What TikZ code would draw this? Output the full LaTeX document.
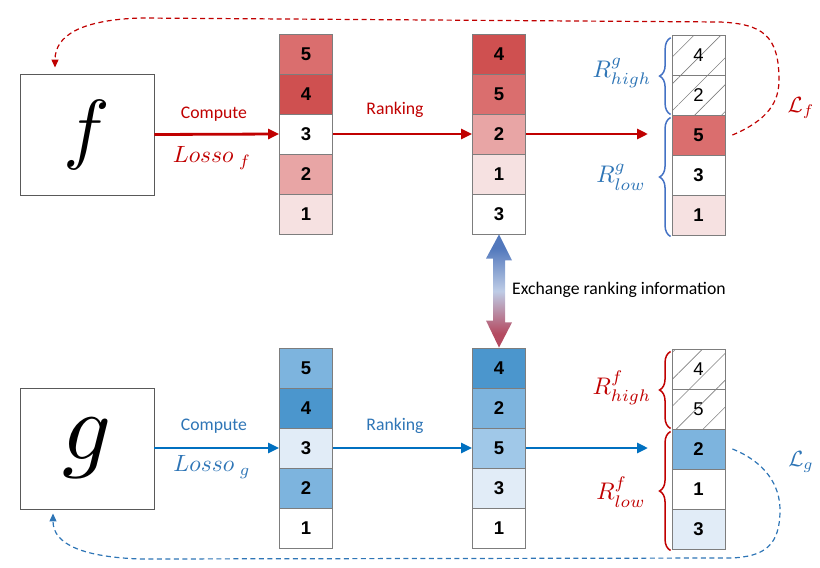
\documentclass[tikz,border=0pt]{standalone}
\usepackage{fontspec}
\setmainfont{Carlito}
\newfontfamily\numfont{Liberation Sans}
\usetikzlibrary{arrows.meta,decorations.pathreplacing,patterns.meta,calc}
\definecolor{rline}{RGB}{192,0,0}
\definecolor{bline}{RGB}{0,112,192}
\definecolor{btext}{RGB}{46,117,182}
\definecolor{bbrace}{RGB}{68,114,196}
\definecolor{rfour}{RGB}{207,80,80}
\definecolor{rfive}{RGB}{218,110,110}
\definecolor{rtwo}{RGB}{232,165,165}
\definecolor{rone}{RGB}{246,225,225}
\definecolor{bfour}{RGB}{75,150,205}
\definecolor{bmed}{RGB}{125,180,222}
\definecolor{blite}{RGB}{160,200,232}
\definecolor{bpale}{RGB}{225,236,247}
\definecolor{cellgray}{RGB}{125,125,125}
\definecolor{exblue}{RGB}{82,120,188}
\definecolor{exmid}{RGB}{190,204,230}
\definecolor{exred}{RGB}{180,74,96}
\pgfdeclareverticalshading{exshade}{100bp}{color(0bp)=(exred); color(31bp)=(exred); color(50bp)=(exmid); color(69bp)=(exblue); color(100bp)=(exblue)}
\begin{document}
\begin{tikzpicture}[x=1pt,y=-1pt,
  cell/.style={draw=cellgray, line width=0.9pt, minimum width=53pt, minimum height=40pt, inner sep=0pt,
    font=\numfont\fontsize{18.5}{18.5}\bfseries\selectfont},
  hatch/.style={draw=cellgray, line width=0.9pt, minimum width=53pt, minimum height=40pt, inner sep=0pt,
    font=\numfont\fontsize{18.5}{18.5}\selectfont,
    pattern={Lines[angle=45,distance=19pt,line width=0.6pt]}, pattern color=gray},
  fbox/.style={draw=black!65, line width=0.9pt, minimum width=134pt, minimum height=121pt, inner sep=0pt},
  mainarrow/.style={line width=2.8pt, -{Triangle[length=11pt,width=10pt]}},
  lab/.style={font=\fontsize{17.7}{20}\selectfont, inner sep=0pt},
  mlab/.style={inner sep=0pt},
  brc/.style={decorate, decoration={brace, amplitude=11pt}, line width=1.5pt},
  dashline/.style={line width=1.2pt, dash pattern=on 5pt off 3.5pt, -{Triangle[length=8pt,width=7pt]}}
]
\useasboundingbox (0,0) rectangle (820,568);

% model boxes
\node[fbox] (F) at (87,134.5) {\scalebox{7.8}{$f$}};
\node[fbox] (G) at (87,448.5) {\scalebox{9.6}{$g$}};

% top columns
\node[cell, fill=rfive] (a1) at (306,54) {5};
\node[cell, fill=rfour] (a2) at (306,94) {4};
\node[cell, fill=white] (a3) at (306,134) {3};
\node[cell, fill=rtwo]  (a4) at (306,174) {2};
\node[cell, fill=rone]  (a5) at (306,214) {1};

\node[cell, fill=rfour] (b1) at (499,54) {4};
\node[cell, fill=rfive] (b2) at (499,94) {5};
\node[cell, fill=rtwo]  (b3) at (499,134) {2};
\node[cell, fill=rone]  (b4) at (499,174) {1};
\node[cell, fill=white] (b5) at (499,214) {3};

\node[hatch] (c1) at (698.5,55) {4};
\node[hatch] (c2) at (698.5,95) {2};
\node[cell, fill=rfive] (c3) at (698.5,135) {5};
\node[cell, fill=white] (c4) at (698.5,175) {3};
\node[cell, fill=rone]  (c5) at (698.5,215) {1};

% bottom columns
\node[cell, fill=bmed]  (d1) at (306,368) {5};
\node[cell, fill=bfour] (d2) at (306,408) {4};
\node[cell, fill=bpale] (d3) at (306,448) {3};
\node[cell, fill=bmed]  (d4) at (306,488) {2};
\node[cell, fill=white] (d5) at (306,528) {1};

\node[cell, fill=bfour] (e1) at (499,368) {4};
\node[cell, fill=bmed]  (e2) at (499,408) {2};
\node[cell, fill=blite] (e3) at (499,448) {5};
\node[cell, fill=bpale] (e4) at (499,488) {3};
\node[cell, fill=white] (e5) at (499,528) {1};

\node[hatch] (h1) at (698.5,369) {4};
\node[hatch] (h2) at (698.5,409) {5};
\node[cell, fill=bmed]  (h3) at (698.5,449) {2};
\node[cell, fill=white] (h4) at (698.5,489) {1};
\node[cell, fill=bpale] (h5) at (698.5,529) {3};

% main arrows
\coordinate (tend) at (648,134);
\coordinate (bend) at (648,448);
\draw[mainarrow, rline] (F.east) -- (a3.west);
\draw[mainarrow, rline] (a3.east) -- (b3.west);
\draw[mainarrow, rline] (b3.east) -- (tend);
\draw[mainarrow, bline] (G.east |- d3.west) -- (d3.west);
\draw[mainarrow, bline] (d3.east) -- (e3.west);
\draw[mainarrow, bline] (e3.east) -- (bend);

% arrow labels
\node[lab, text=rline] (tc) at (214,114) {Compute};
\node[mlab, text=rline] (tl) at (212,158) {\scalebox{2.35}{$Losso\ _{f}$}};
\node[lab, text=rline] (tr) at (395,110) {Ranking};
\node[lab, text=btext] (bc) at (214,426) {Compute};
\node[mlab, text=btext] (bl) at (212,467) {\scalebox{2.35}{$Losso\ _{g}$}};
\node[lab, text=btext] (br) at (395,426) {Ranking};

% braces
\draw[brc, bbrace] ([shift={(-1,-1)}]c2.south west) -- ([shift={(-1,3)}]c1.north west);
\draw[brc, bbrace] ([shift={(-1,1)}]c5.south west) -- ([shift={(-1,3)}]c3.north west);
\draw[brc, rline] ([shift={(-1,-1)}]h2.south west) -- ([shift={(-1,3)}]h1.north west);
\draw[brc, rline] ([shift={(-1,1)}]h5.south west) -- ([shift={(-1,3)}]h3.north west);

\node[mlab, text=btext] (rgh) at (622,73) {\scalebox{2.4}{$R^{g}_{high}$}};
\node[mlab, text=btext] (rgl) at (621,177) {\scalebox{2.4}{$R^{g}_{low}$}};
\node[mlab, text=rline] (rfh) at (622,388) {\scalebox{2.4}{$R^{f}_{high}$}};
\node[mlab, text=rline] (rfl) at (621,492) {\scalebox{2.4}{$R^{f}_{low}$}};

% loss labels
\node[mlab, text=rline] (Lf) at (801,108) {\scalebox{2.2}{$\mathcal{L}_f$}};
\node[mlab, text=btext] (Lg) at (801,462) {\scalebox{2.2}{$\mathcal{L}_g$}};

% feedback dashed curves
\draw[dashline, rline] ([xshift=7pt]c3.east) .. controls (768,120) and (779,102) .. (779,80)
  .. controls (779,35) and (762,24) .. (720,22) -- (140,18)
  .. controls (82,20) and (55,35) .. ([xshift=-32pt,yshift=6pt]F.north);
\draw[dashline, btext] ([xshift=7pt]h3.east) .. controls (765,462) and (780,485) .. (780,510)
  .. controls (780,545) and (765,557) .. (730,558) -- (140,559)
  .. controls (85,557) and (53,545) .. ([xshift=-34pt,yshift=-4pt]G.south);

% exchange arrow
\shade[shading=exshade]
  (b5.south) -- ++(13,26) -- ++(-7,0) -- ++(0,62) -- ++(7,0) -- (e1.north)
  -- ++(-13,-27) -- ++(7,0) -- ++(0,-62) -- ++(-7,0) -- cycle;
\node[lab, anchor=west, text=black] (ex) at (512,290) {Exchange ranking information};
\end{tikzpicture}
\end{document}
